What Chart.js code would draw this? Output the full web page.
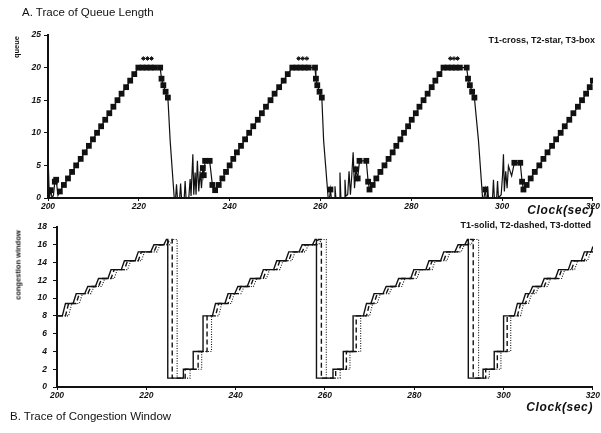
<!DOCTYPE html>
<html>
<head>
<meta charset="utf-8">
<script src="https://cdn.jsdelivr.net/npm/chart.js@4.4.1/dist/chart.umd.min.js"></script>
<style>
  body { margin: 0; background: #fff; width: 601px; height: 433px; overflow: hidden; position: relative; }
  canvas { position: absolute; left: 0; }
  #queueChart { top: 0; }
  #cwndChart { top: 215px; }
  .txt { position: absolute; white-space: nowrap; color: #111; font-family: 'Liberation Sans', sans-serif; }
  .title { font-size: 11.5px; }
  .note { font-size: 9px; font-weight: bold; }
  .clock { font-size: 12px; font-weight: bold; font-style: italic; letter-spacing: 0.6px; }
  .ytitle { font-size: 7.5px; font-weight: bold; transform: translate(-50%, -50%) rotate(-90deg); }
</style>
</head>
<body>
<canvas id="queueChart" width="601" height="215"></canvas>
<canvas id="cwndChart" width="601" height="218"></canvas>

<div class="txt title" style="left:22px; top:6px;">A. Trace of Queue Length</div>
<div class="txt note" style="right:6px; top:35px;">T1-cross, T2-star, T3-box</div>
<div class="txt clock" style="right:7px; top:203px;">Clock(sec)</div>
<div class="txt ytitle" style="left:16px; top:47px;">queue</div>

<div class="txt note" style="right:10px; top:220px;">T1-solid, T2-dashed, T3-dotted</div>
<div class="txt ytitle" style="left:18px; top:265px;">congestion window</div>
<div class="txt clock" style="right:8px; top:400px;">Clock(sec)</div>
<div class="txt title" style="left:10px; top:410px;">B. Trace of Congestion Window</div>

<script>
// queue length trace: [clock (sec), packets]
const queueTrace = [
    [200.0, 0], [200.1, 4.5], [200.3, 0], [200.6, 1.2], [200.9, 0], [201.2, 0.4], [201.5, 2.5], [201.8, 2.8], [202.2, 0.4],
    [202.6, 1], [203.5, 2], [204.4, 3], [205.3, 4], [206.2, 5], [207.2, 6], [208.1, 7], [209.0, 8], [209.9, 9], [210.8, 10],
    [211.7, 11], [212.6, 12], [213.5, 13], [214.4, 14], [215.3, 15], [216.2, 16], [217.2, 17], [218.1, 18], [219.0, 19], [219.9, 20],
    [220.8, 20], [221.7, 20], [222.6, 20], [223.5, 20], [224.7, 20],
    [225.0, 18.3], [225.4, 17.3], [225.9, 16.3], [226.4, 15.4], [226.9, 8.8], [227.8, 0],
    [228.1, 0], [228.3, 2.1], [228.5, 0], [229.0, 0], [229.2, 2.2], [229.4, 0], [230.0, 0], [230.2, 2.6], [230.4, 0],
    [231.0, 0], [231.3, 2.9], [231.5, 0.3], [231.9, 6.7], [232.1, 0.5], [232.4, 3.9], [232.6, 0.5], [232.9, 5.7], [233.2, 1],
    [233.5, 4.1], [233.8, 1.5], [234.1, 4.6], [234.3, 3.5], [234.6, 5.7], [235.6, 5.7], [236.2, 2], [236.8, 1.2],
    [237.6, 2], [238.4, 3], [239.2, 4], [240.0, 5], [240.8, 6], [241.6, 7], [242.5, 8], [243.4, 9], [244.3, 10],
    [245.2, 11], [246.2, 12], [247.1, 13], [248.0, 14], [249.0, 15], [249.9, 16], [250.9, 17], [251.9, 18], [252.8, 19], [253.8, 20],
    [254.7, 20], [255.6, 20], [256.5, 20], [257.4, 20], [258.8, 20],
    [259.0, 18.3], [259.3, 17.3], [259.8, 16.3], [260.3, 15.4], [260.7, 8.8], [261.7, 0],
    [262.0, 0], [262.2, 1.3], [262.4, 0], [263.0, 0], [263.2, 1.8], [263.4, 0], [264.1, 0], [264.3, 3.9], [264.5, 0],
    [265.2, 0], [265.4, 2.8], [265.6, 0.3], [266.0, 0.5], [266.3, 4.1], [266.6, 0.5], [266.9, 3.5], [267.2, 7], [267.5, 1.5],
    [267.8, 4.4], [268.2, 3], [268.6, 5.7], [270.1, 5.7], [270.5, 2.5], [270.8, 1.3],
    [271.5, 2], [272.3, 3], [273.2, 4], [274.1, 5], [275.0, 6], [275.9, 7], [276.7, 8], [277.6, 9], [278.4, 10],
    [279.3, 11], [280.1, 12], [281.0, 13], [281.8, 14], [282.7, 15], [283.6, 16], [284.5, 17], [285.3, 18], [286.2, 19], [287.1, 20],
    [288.0, 20], [288.9, 20], [289.8, 20], [290.7, 20], [292.2, 20],
    [292.5, 18.3], [292.9, 17.3], [293.4, 16.3], [293.9, 15.4], [294.8, 8.8], [295.7, 0],
    [296.0, 0], [296.3, 1.3], [296.5, 0], [296.7, 0], [296.8, 1.8], [297.0, 0], [297.9, 0], [298.1, 2.8], [298.3, 0],
    [298.8, 0], [299.0, 2.6], [299.2, 0], [299.8, 0.5], [300.1, 3.5], [300.3, 6.7], [300.5, 1], [300.8, 4.1], [301.1, 1.5],
    [301.4, 4.9], [302.1, 3.4], [302.7, 5.4], [304.0, 5.4], [304.4, 2.5], [304.7, 1.3],
    [305.4, 2], [306.3, 3], [307.2, 4], [308.2, 5], [309.1, 6], [310.0, 7], [311.0, 8], [311.9, 9], [312.9, 10],
    [313.8, 11], [314.8, 12], [315.7, 13], [316.7, 14], [317.6, 15], [318.5, 16], [319.3, 17], [320.0, 18]
];

// star marks above the full queue
const starTrace = [
    [221.0, 21.4], [221.9, 21.4], [222.8, 21.4],
    [255.2, 21.4], [256.1, 21.4], [257.0, 21.4],
    [288.6, 21.4], [289.4, 21.4], [290.2, 21.4]
];

// congestion windows: [clock (sec), window]
const cwndT1 = [
    [200.0, 8], [201.2, 8], [201.9, 9.4], [203.6, 9.4], [204.3, 10.5], [206.2, 10.5], [206.9, 11.3], [208.6, 11.3],
    [209.3, 12.2], [211.4, 12.2], [212.1, 13.2], [214.4, 13.2], [215.1, 14.2], [217.5, 14.2], [218.2, 15.2], [221.0, 15.2],
    [221.7, 16.0], [223.9, 16.0], [224.5, 16.6], [224.8, 16.6], [224.8, 1], [228.3, 1], [228.3, 2], [230.5, 2],
    [230.5, 4], [232.7, 4], [232.7, 8], [234.8, 8], [235.5, 9.4], [237.6, 9.4], [238.3, 10.5], [239.8, 10.5],
    [240.5, 11.3], [242.6, 11.3], [243.3, 12.2], [245.5, 12.2], [246.2, 13.2], [248.5, 13.2], [249.2, 14.2], [251.2, 14.2],
    [251.9, 15.2], [254.2, 15.2], [254.9, 16.0], [257.2, 16.0], [257.8, 16.6], [258.1, 16.6], [258.1, 1], [261.8, 1],
    [261.8, 2], [264.1, 2], [264.1, 4], [266.3, 4], [266.3, 8], [268.6, 8], [269.3, 9.4], [270.3, 9.4],
    [271.0, 10.5], [273.0, 10.5], [273.7, 11.3], [275.8, 11.3], [276.5, 12.2], [279.2, 12.2], [279.9, 13.2], [282.6, 13.2],
    [283.3, 14.2], [285.9, 14.2], [286.6, 15.2], [289.1, 15.2], [289.8, 16.0], [291.3, 16.0], [291.9, 16.6], [292.1, 16.6],
    [292.1, 1], [295.4, 1], [295.4, 2], [297.9, 2], [297.9, 4], [300.0, 4], [300.0, 8], [302.4, 8],
    [303.1, 9.4], [304.2, 9.4], [304.9, 10.5], [305.8, 10.5], [306.5, 11.3], [308.4, 11.3], [309.1, 12.2], [311.6, 12.2],
    [312.3, 13.2], [314.5, 13.2], [315.2, 14.2], [317.4, 14.2], [318.1, 15.2], [319.6, 15.2], [320.0, 15.8]
];
const cwndT2 = [
    [200.0, 8], [201.9, 8], [202.6, 9.4], [204.3, 9.4], [205.0, 10.5], [206.9, 10.5], [207.6, 11.3], [209.3, 11.3],
    [210.0, 12.2], [212.1, 12.2], [212.8, 13.2], [215.1, 13.2], [215.8, 14.2], [218.2, 14.2], [218.9, 15.2], [221.7, 15.2],
    [222.4, 16.0], [224.6, 16.0], [225.2, 16.6], [225.8, 16.6], [225.8, 1], [228.7, 1], [228.7, 2], [231.6, 2],
    [231.6, 4], [233.6, 4], [233.6, 8], [235.5, 8], [236.2, 9.4], [238.3, 9.4], [239.0, 10.5], [240.5, 10.5],
    [241.2, 11.3], [243.3, 11.3], [244.0, 12.2], [246.2, 12.2], [246.9, 13.2], [249.2, 13.2], [249.9, 14.2], [251.9, 14.2],
    [252.6, 15.2], [254.9, 15.2], [255.6, 16.0], [257.9, 16.0], [258.5, 16.6], [259.2, 16.6], [259.2, 1], [262.4, 1],
    [262.4, 2], [264.8, 2], [264.8, 4], [267.0, 4], [267.0, 8], [269.3, 8], [270.0, 9.4], [271.0, 9.4],
    [271.7, 10.5], [273.7, 10.5], [274.4, 11.3], [276.5, 11.3], [277.2, 12.2], [279.9, 12.2], [280.6, 13.2], [283.3, 13.2],
    [284.0, 14.2], [286.6, 14.2], [287.3, 15.2], [289.8, 15.2], [290.5, 16.0], [292.0, 16.0], [292.6, 16.6], [293.2, 16.6],
    [293.2, 1], [296.0, 1], [296.0, 2], [298.6, 2], [298.6, 4], [300.8, 4], [300.8, 8], [303.1, 8],
    [303.8, 9.4], [304.9, 9.4], [305.6, 10.5], [306.5, 10.5], [307.2, 11.3], [309.1, 11.3], [309.8, 12.2], [312.3, 12.2],
    [313.0, 13.2], [315.2, 13.2], [315.9, 14.2], [318.1, 14.2], [318.8, 15.2], [320.0, 15.2]
];
const cwndT3 = [
    [200.0, 8], [202.6, 8], [203.3, 9.4], [205.0, 9.4], [205.7, 10.5], [207.6, 10.5], [208.3, 11.3], [210.0, 11.3],
    [210.7, 12.2], [212.8, 12.2], [213.5, 13.2], [215.8, 13.2], [216.5, 14.2], [218.9, 14.2], [219.6, 15.2], [222.4, 15.2],
    [223.1, 16.0], [225.3, 16.0], [225.9, 16.6], [226.9, 16.6], [226.9, 1], [229.8, 1], [229.8, 2], [232.4, 2],
    [232.4, 4], [234.6, 4], [234.6, 8], [236.2, 8], [236.9, 9.4], [239.0, 9.4], [239.7, 10.5], [241.2, 10.5],
    [241.9, 11.3], [244.0, 11.3], [244.7, 12.2], [246.9, 12.2], [247.6, 13.2], [249.9, 13.2], [250.6, 14.2], [252.6, 14.2],
    [253.3, 15.2], [255.6, 15.2], [256.3, 16.0], [258.6, 16.0], [259.2, 16.6], [260.3, 16.6], [260.3, 1], [263.4, 1],
    [263.4, 2], [265.6, 2], [265.6, 4], [268.0, 4], [268.0, 8], [270.0, 8], [270.7, 9.4], [271.7, 9.4],
    [272.4, 10.5], [274.4, 10.5], [275.1, 11.3], [277.2, 11.3], [277.9, 12.2], [280.6, 12.2], [281.3, 13.2], [284.0, 13.2],
    [284.7, 14.2], [287.3, 14.2], [288.0, 15.2], [290.5, 15.2], [291.2, 16.0], [292.7, 16.0], [293.3, 16.6], [294.4, 16.6],
    [294.4, 1], [296.8, 1], [296.8, 2], [299.4, 2], [299.4, 4], [301.6, 4], [301.6, 8], [303.8, 8],
    [304.5, 9.4], [305.6, 9.4], [306.3, 10.5], [307.2, 10.5], [307.9, 11.3], [309.8, 11.3], [310.5, 12.2], [313.0, 12.2],
    [313.7, 13.2], [315.9, 13.2], [316.6, 14.2], [318.8, 14.2], [319.5, 15.2], [320.0, 15.2]
];

const clockTicks = [200, 220, 240, 260, 280, 300, 320];

const ink = '#111';
const toXY = pts => pts.map(p => ({ x: p[0], y: p[1] }));

Chart.defaults.font.family = "'Liberation Sans', sans-serif";
Chart.defaults.color = ink;

// box markers only where the queue climbs or sits level, not on the spikes
const queueLen = queueTrace.map(p => p[1]);
function boxRadius(ctx) {
    const i = ctx.dataIndex;
    const v = queueLen[i];
    if (v < 0.8) return 0;
    const prev = i > 0 ? queueLen[i - 1] : v;
    const next = i < queueLen.length - 1 ? queueLen[i + 1] : v;
    return (Math.abs(v - prev) <= 1.5 || Math.abs(next - v) <= 1.5) ? 4.1 : 0;
}

function clockAxis(h) {
    return {
        type: 'linear', min: 200, max: 320,
        afterBuildTicks: s => { s.ticks = clockTicks.map(v => ({ value: v })); },
        ticks: { maxRotation: 0, padding: 1, color: ink, font: { size: 8.5, weight: 'bold', style: 'italic' } },
        grid: { drawOnChartArea: false, drawTicks: true, tickLength: 3, color: ink },
        border: { display: true, color: ink, width: 2 },
        afterFit: s => { s.height = h; }
    };
}

function valueAxis(max, step, w, pad) {
    return {
        min: 0, max: max,
        ticks: { stepSize: step, padding: pad, color: ink, font: { size: 8.5, weight: 'bold', style: 'italic' } },
        grid: { drawOnChartArea: false, drawTicks: true, tickLength: 4, color: ink },
        border: { display: true, color: ink, width: 2 },
        afterFit: s => { s.width = w; }
    };
}

const baseOpts = {
    responsive: false,
    animation: false,
    devicePixelRatio: 1,
    plugins: { legend: { display: false }, tooltip: { enabled: false } }
};

// A. queue length
new Chart(document.getElementById('queueChart'), {
    type: 'line',
    data: {
        datasets: [{
            data: toXY(queueTrace),
            borderColor: ink,
            borderWidth: 1.2,
            pointStyle: 'rect',
            pointRadius: boxRadius,
            pointBackgroundColor: ink,
            pointBorderWidth: 0,
            tension: 0
        }, {
            data: toXY(starTrace),
            showLine: false,
            pointStyle: 'star',
            pointRadius: 2.2,
            pointBorderColor: ink,
            pointBorderWidth: 1
        }]
    },
    options: Object.assign({}, baseOpts, {
        layout: { padding: { left: 0, top: 35, right: 7, bottom: 3 } },
        scales: { x: clockAxis(14), y: valueAxis(25, 5, 48, 3) }
    })
});

// B. congestion windows
const cwndLine = (pts, width, dash) => ({
    data: toXY(pts),
    borderColor: ink,
    borderWidth: width,
    borderDash: dash,
    pointRadius: 0,
    tension: 0
});

new Chart(document.getElementById('cwndChart'), {
    type: 'line',
    data: {
        datasets: [
            cwndLine(cwndT1, 1.4, []),
            cwndLine(cwndT2, 1.4, [5, 3]),
            cwndLine(cwndT3, 1.1, [1, 1.5])
        ]
    },
    options: Object.assign({}, baseOpts, {
        layout: { padding: { left: 0, top: 12, right: 7, bottom: 30 } },
        scales: { x: clockAxis(16), y: valueAxis(18, 2, 57, 6) }
    })
});
</script>
</body>
</html>
